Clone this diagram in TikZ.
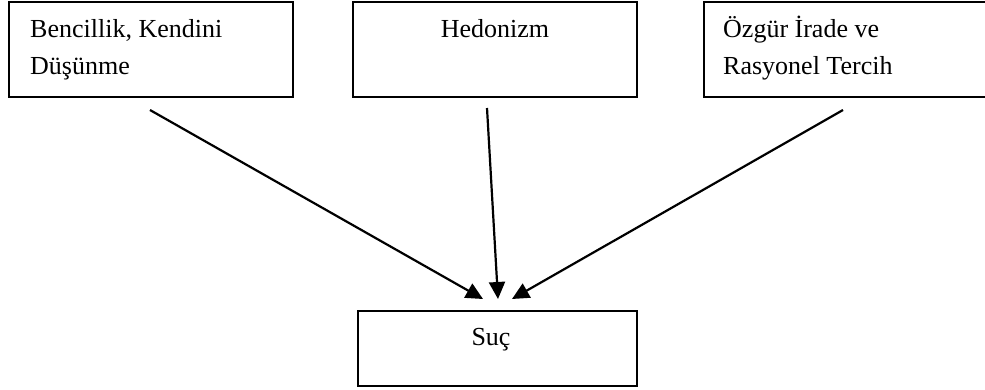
\documentclass[tikz,border=0pt]{standalone}
\usepackage{fontspec}
\setmainfont{Liberation Serif}
\usetikzlibrary{arrows.meta}
\tikzset{
  box/.style={draw=black, line width=2pt, fill=none},
  txt/.style={inner sep=0pt, font=\fontsize{26}{37}\selectfont, align=flush left, text width=270pt},
  ctxt/.style={inner sep=0pt, font=\fontsize{26}{37}\selectfont},
  arr/.style={line width=2.2pt, -{Triangle[length=17pt,width=16pt]}}
}
\begin{document}
\begin{tikzpicture}[x=1pt,y=-1pt]
\fill[white] (0,0) rectangle (985,389);
\useasboundingbox (0,0) rectangle (985,389);
% boxes
\draw[box] (9,2) rectangle (293,97);
\draw[box] (353,2) rectangle (637,97);
\draw[box] (704,2) rectangle (992,97);
\draw[box] (358,311) rectangle (637,386);
% texts
\node[txt, anchor=base west] (t1) at (30,37) {Bencillik, Kendini\\Düşünme};
\node[ctxt, anchor=base] (t2) at (495,37) {Hedonizm};
\node[txt, anchor=base west] (t3) at (723,37) {Özgür İrade ve\\Rasyonel Tercih};
\node[ctxt, anchor=base] (t4) at (491,345) {Suç};
% connectors
\coordinate (s1) at (150,110);
\coordinate (s2) at (487,108);
\coordinate (s3) at (843,110);
\coordinate (e1) at (483,299);
\coordinate (e2) at (498,299);
\coordinate (e3) at (512,299);
\draw[arr] (s1) -- (e1);
\draw[arr] (s2) -- (e2);
\draw[arr] (s3) -- (e3);
\end{tikzpicture}
\end{document}
